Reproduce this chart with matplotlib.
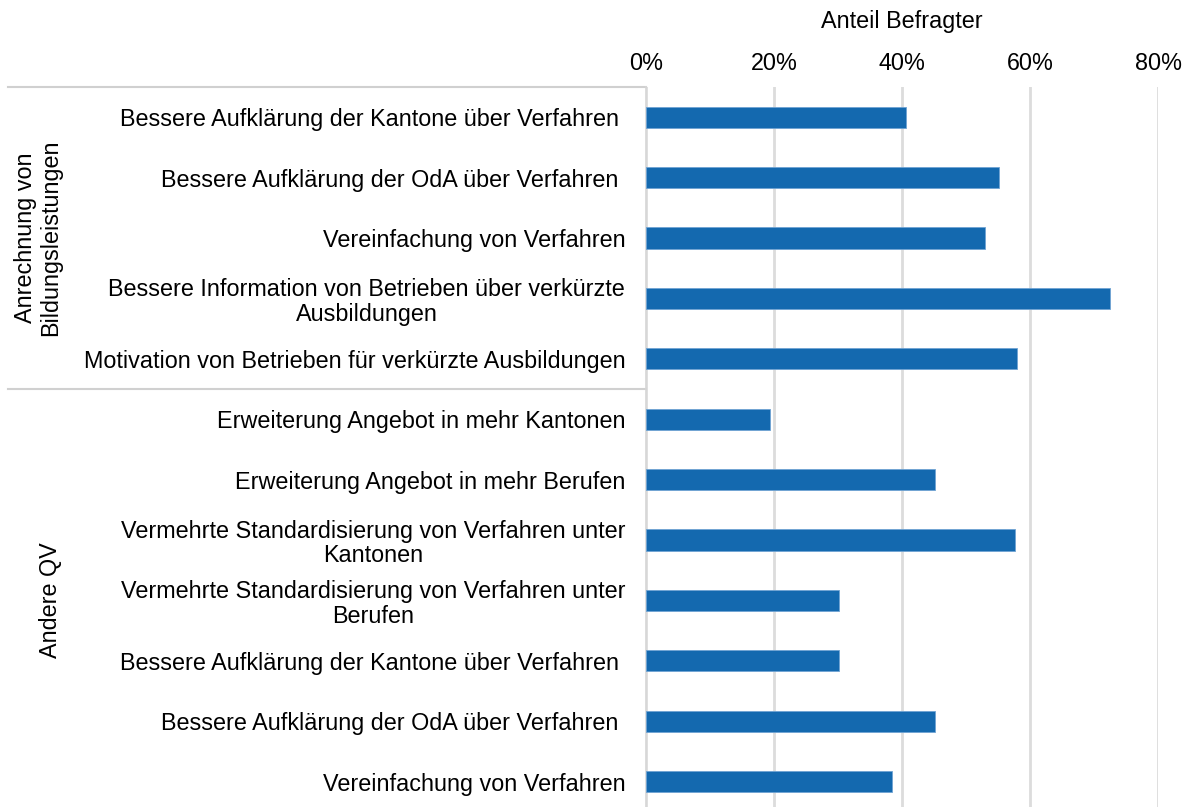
import numpy as np
import matplotlib.pyplot as plt

plt.rcParams['font.family'] = ['Liberation Sans', 'DejaVu Sans']

labels = [
    "Bessere Aufklärung der Kantone über Verfahren ",
    "Bessere Aufklärung der OdA über Verfahren ",
    "Vereinfachung von Verfahren",
    "Bessere Information von Betrieben über verkürzte\nAusbildungen",
    "Motivation von Betrieben für verkürzte Ausbildungen",
    "Erweiterung Angebot in mehr Kantonen",
    "Erweiterung Angebot in mehr Berufen",
    "Vermehrte Standardisierung von Verfahren unter\nKantonen",
    "Vermehrte Standardisierung von Verfahren unter\nBerufen",
    "Bessere Aufklärung der Kantone über Verfahren ",
    "Bessere Aufklärung der OdA über Verfahren ",
    "Vereinfachung von Verfahren",
]
values = [40.6, 55.1, 53.0, 72.5, 58.0, 19.3, 45.2, 57.6, 30.2, 30.2, 45.2, 38.5]
groups = ["Anrechnung von\nBildungsleistungen", "Andere QV"]
group_sizes = [5, 7]
xticks = [0, 20, 40, 60, 80]

fs = 16.8

fig = plt.figure(figsize=(11.9, 8.07), dpi=100)
ax = fig.add_axes([646 / 1190, 0, (1158 - 646) / 1190, 1 - 87 / 807])

y = np.arange(len(values))
ax.barh(y, values, height=0.35, color='#1469AF', edgecolor='#6fa3d3', linewidth=0.6, zorder=3)

ax.set_xlim(0, 80)
ax.set_ylim(11.42, -0.5)
ax.xaxis.tick_top()
ax.xaxis.set_label_position('top')
ax.set_xticks(xticks)
ax.set_xticklabels([f"{t}%" for t in xticks], fontsize=fs)
ax.set_xlabel("Anteil Befragter", fontsize=fs, labelpad=17)
ax.tick_params(axis='x', length=0, pad=9)
ax.set_yticks(y)
ax.set_yticklabels(labels, fontsize=fs, multialignment='center', linespacing=1.1)
ax.tick_params(axis='y', length=0, pad=15)
ax.grid(axis='x', color='#dcdcdc', linewidth=2, zorder=0)
for s in ['top', 'right', 'bottom']:
    ax.spines[s].set_visible(False)
ax.spines['left'].set_color('#d6d6d6')
ax.spines['left'].set_linewidth(1.2)

# group separators and labels on the left
tr = ax.get_yaxis_transform()
x0 = (8 - 646) / 512
start = -0.5
for g, n in zip(groups, group_sizes):
    ax.plot([x0, 0], [start, start], color='#d0d0d0', linewidth=1.5, transform=tr, clip_on=False)
    start += n
ax.text((38 - 646) / 512, 2, groups[0], transform=tr, rotation=90, ha='center', va='center',
        fontsize=fs, linespacing=1.15)
ax.text((50 - 646) / 512, 8, groups[1], transform=tr, rotation=90, ha='center', va='center',
        fontsize=fs)

fig.savefig("out.png", dpi=100)
